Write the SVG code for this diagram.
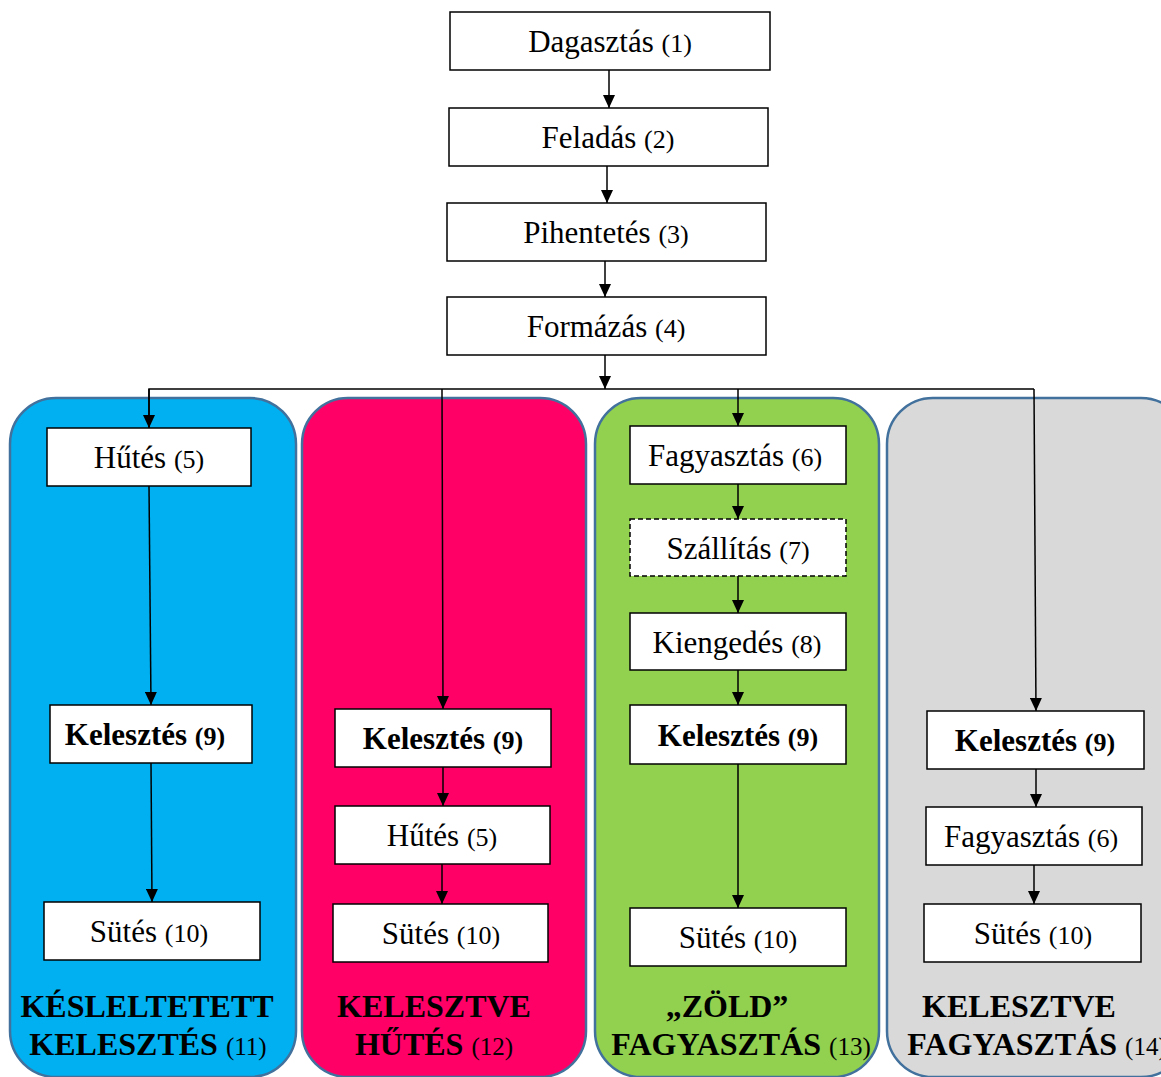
<svg xmlns="http://www.w3.org/2000/svg" width="1161" height="1077" viewBox="0 0 1161 1077">
<defs>
<style>
.panel{stroke:#41719C;stroke-width:2.5}
.box{fill:#fff;stroke:#000;stroke-width:1.5}
.dash{stroke-dasharray:5,3}
.t{font-family:"Liberation Serif","Times New Roman",serif;font-size:31px;fill:#000;text-anchor:middle}
.b{font-weight:bold}
.p{font-size:26px}
.pb{font-size:26px;font-weight:bold}
.lbl{font-family:"Liberation Serif","Times New Roman",serif;font-size:32px;font-weight:bold;fill:#000;text-anchor:middle}
.lp{font-size:25px;font-weight:normal}
.conn line,.conn polyline{stroke:#000;stroke-width:1.5;fill:none}
</style>
<marker id="ah" viewBox="0 0 13 12" refX="13" refY="6" markerWidth="13" markerHeight="12" markerUnits="userSpaceOnUse" orient="auto">
<path d="M0,0 L13,6 L0,12 Z" fill="#000"/>
</marker>
</defs>
<rect width="1161" height="1077" fill="#fff"/>

<g id="panel-blue"><rect class="panel" x="10" y="398" width="286" height="679" rx="46" fill="#00B0F0"/></g>
<g id="panel-pink"><rect class="panel" x="302" y="398" width="284" height="679" rx="46" fill="#FF0066"/></g>
<g id="panel-green"><rect class="panel" x="595" y="398" width="284" height="679" rx="46" fill="#92D050"/></g>
<g id="panel-gray"><rect class="panel" x="887" y="398" width="300" height="679" rx="46" fill="#D9D9D9"/></g>

<g id="connectors" class="conn">
<line x1="609" y1="70" x2="609" y2="108" marker-end="url(#ah)"/>
<line x1="607" y1="166" x2="607" y2="203" marker-end="url(#ah)"/>
<line x1="605" y1="261" x2="605" y2="297" marker-end="url(#ah)"/>
<line x1="605" y1="355" x2="605" y2="389" marker-end="url(#ah)"/>
<polyline points="149,428 149,389 1034,389"/>
<line x1="149" y1="389" x2="149" y2="428" marker-end="url(#ah)"/>
<line x1="442" y1="389" x2="443" y2="709" marker-end="url(#ah)"/>
<line x1="738" y1="389" x2="738" y2="426" marker-end="url(#ah)"/>
<line x1="1034" y1="389" x2="1036" y2="711" marker-end="url(#ah)"/>
<line x1="149" y1="486" x2="151" y2="705" marker-end="url(#ah)"/>
<line x1="151" y1="763" x2="152" y2="902" marker-end="url(#ah)"/>
<line x1="443" y1="767" x2="443" y2="806" marker-end="url(#ah)"/>
<line x1="442" y1="864" x2="442" y2="904" marker-end="url(#ah)"/>
<line x1="738" y1="484" x2="738" y2="519" marker-end="url(#ah)"/>
<line x1="738" y1="576" x2="738" y2="613" marker-end="url(#ah)"/>
<line x1="738" y1="670" x2="738" y2="705" marker-end="url(#ah)"/>
<line x1="738" y1="764" x2="738" y2="908" marker-end="url(#ah)"/>
<line x1="1036" y1="769" x2="1036" y2="807" marker-end="url(#ah)"/>
<line x1="1034" y1="865" x2="1034" y2="904" marker-end="url(#ah)"/>
</g>

<g id="n1"><rect class="box" x="450" y="12" width="320" height="58"/><text class="t" x="610" y="52">Dagasztás <tspan class="p">(1)</tspan></text></g>
<g id="n2"><rect class="box" x="449" y="108" width="319" height="58"/><text class="t" x="608" y="148">Feladás <tspan class="p">(2)</tspan></text></g>
<g id="n3"><rect class="box" x="447" y="203" width="319" height="58"/><text class="t" x="606" y="243">Pihentetés <tspan class="p">(3)</tspan></text></g>
<g id="n4"><rect class="box" x="447" y="297" width="319" height="58"/><text class="t" x="606" y="337">Formázás <tspan class="p">(4)</tspan></text></g>

<g id="b-hutes"><rect class="box" x="47" y="428" width="204" height="58"/><text class="t" x="149" y="468">Hűtés <tspan class="p">(5)</tspan></text></g>
<g id="b-keleszt"><rect class="box" x="50" y="705" width="202" height="58"/><text class="t b" x="145" y="745">Kelesztés <tspan class="pb">(9)</tspan></text></g>
<g id="b-sutes"><rect class="box" x="44" y="902" width="216" height="58"/><text class="t" x="149" y="942">Sütés <tspan class="p">(10)</tspan></text></g>

<g id="p-keleszt"><rect class="box" x="335" y="709" width="216" height="58"/><text class="t b" x="443" y="749">Kelesztés <tspan class="pb">(9)</tspan></text></g>
<g id="p-hutes"><rect class="box" x="335" y="806" width="215" height="58"/><text class="t" x="442" y="846">Hűtés <tspan class="p">(5)</tspan></text></g>
<g id="p-sutes"><rect class="box" x="333" y="904" width="215" height="58"/><text class="t" x="441" y="944">Sütés <tspan class="p">(10)</tspan></text></g>

<g id="g-fagy"><rect class="box" x="630" y="426" width="216" height="58"/><text class="t" x="735" y="466">Fagyasztás <tspan class="p">(6)</tspan></text></g>
<g id="g-szall"><rect class="box dash" x="630" y="519" width="216" height="57"/><text class="t" x="738" y="559">Szállítás <tspan class="p">(7)</tspan></text></g>
<g id="g-kieng"><rect class="box" x="630" y="613" width="216" height="57"/><text class="t" x="737" y="653">Kiengedés <tspan class="p">(8)</tspan></text></g>
<g id="g-keleszt"><rect class="box" x="630" y="705" width="216" height="59"/><text class="t b" x="738" y="746">Kelesztés <tspan class="pb">(9)</tspan></text></g>
<g id="g-sutes"><rect class="box" x="630" y="908" width="216" height="58"/><text class="t" x="738" y="948">Sütés <tspan class="p">(10)</tspan></text></g>

<g id="s-keleszt"><rect class="box" x="927" y="711" width="217" height="58"/><text class="t b" x="1035" y="751">Kelesztés <tspan class="pb">(9)</tspan></text></g>
<g id="s-fagy"><rect class="box" x="926" y="807" width="216" height="58"/><text class="t" x="1031" y="847">Fagyasztás <tspan class="p">(6)</tspan></text></g>
<g id="s-sutes"><rect class="box" x="924" y="904" width="217" height="58"/><text class="t" x="1033" y="944">Sütés <tspan class="p">(10)</tspan></text></g>

<g id="label-11"><text class="lbl" x="147" y="1017">KÉSLELTETETT</text><text class="lbl" x="148" y="1055">KELESZTÉS <tspan class="lp">(11)</tspan></text></g>
<g id="label-12"><text class="lbl" x="434" y="1017">KELESZTVE</text><text class="lbl" x="434" y="1055">HŰTÉS <tspan class="lp">(12)</tspan></text></g>
<g id="label-13"><text class="lbl" x="727" y="1017">„ZÖLD”</text><text class="lbl" x="741" y="1055">FAGYASZTÁS <tspan class="lp">(13)</tspan></text></g>
<g id="label-14"><text class="lbl" x="1019" y="1017">KELESZTVE</text><text class="lbl" x="1037" y="1055">FAGYASZTÁS <tspan class="lp">(14)</tspan></text></g>
</svg>
